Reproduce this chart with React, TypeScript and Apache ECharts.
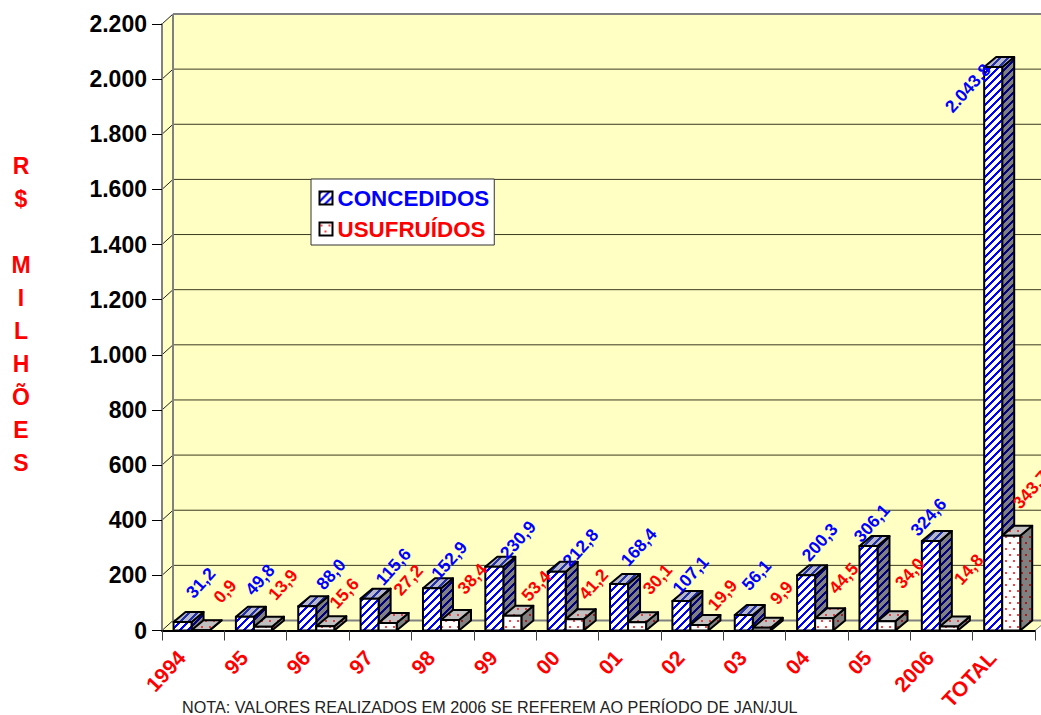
import React, { useEffect, useRef } from "react";
import * as echarts from "echarts";

const categories = ["1994", "95", "96", "97", "98", "99", "00", "01", "02", "03", "04", "05", "2006", "TOTAL"];
const concedidos = [31.2, 49.8, 88.0, 115.6, 152.9, 230.9, 212.8, 168.4, 107.1, 56.1, 200.3, 306.1, 324.6, 2043.8];
const usufruidos = [0.9, 13.9, 15.6, 27.2, 38.4, 53.4, 41.2, 30.1, 19.9, 9.9, 44.5, 34.0, 14.8, 343.7];
const concedidosLabels = ["31,2", "49,8", "88,0", "115,6", "152,9", "230,9", "212,8", "168,4", "107,1", "56,1", "200,3", "306,1", "324,6", "2.043,8"];
const usufruidosLabels = ["0,9", "13,9", "15,6", "27,2", "38,4", "53,4", "41,2", "30,1", "19,9", "9,9", "44,5", "34,0", "14,8", "343,7"];
const valueTicks = [0, 200, 400, 600, 800, 1000, 1200, 1400, 1600, 1800, 2000, 2200];
const valueTickLabels = ["0", "200", "400", "600", "800", "1.000", "1.200", "1.400", "1.600", "1.800", "2.000", "2.200"];

// hand-placed data label nudges (pixels from the bar's top at the band centre)
const concedidosNudgeX = [7.5, 4.5, 13, 13, 6.5, 13, 13, 9, -1.5, 2, 3, -7.5, -13, -36];
const concedidosNudgeY = [-39, -37, -32, -32, -28, -27, -24, -37, -26, -40, -33, -23, -24, 21];
const usufruidosNudgeX = [31.8, 27.5, 26.2, 27.9, 29.6, 31.3, 26, 27.7, 30.4, 27.1, 26.8, 30.5, 27.2, 26.9];
const usufruidosNudgeY = [-39, -42, -33, -43, -41, -30, -35, -43, -30, -35, -40, -48, -57, -46];

const WALL = "#FFFFC4";
const DEPTH_X = 11;
const DEPTH_Y = 10;
const BAR_DX = 12;
const BAR_DY = 10;

function stripes(fg: string, bg: string) {
  const c = document.createElement("canvas");
  c.width = 8;
  c.height = 8;
  const g = c.getContext("2d")!;
  g.fillStyle = bg;
  g.fillRect(0, 0, 8, 8);
  g.fillStyle = fg;
  for (let y = 0; y < 8; y++) for (let x = 0; x < 8; x++) if ((x + y) % 8 < 3) g.fillRect(x, y, 1, 1);
  return { image: c, repeat: "repeat" };
}

function dots(fg: string, bg: string) {
  const c = document.createElement("canvas");
  c.width = 8;
  c.height = 12;
  const g = c.getContext("2d")!;
  g.fillStyle = bg;
  g.fillRect(0, 0, 8, 12);
  g.fillStyle = fg;
  g.fillRect(1, 2, 2, 2);
  g.fillRect(5, 8, 2, 2);
  return { image: c, repeat: "repeat" };
}

function barRenderer(startRatio: number, widthRatio: number, front: any, top: any, side: any) {
  return (params: any, api: any) => {
    const i = api.value(0);
    const v = api.value(1);
    const band = api.size([1, 0])[0];
    const [cx, y1] = api.coord([i, v]);
    const y0 = api.coord([i, 0])[1];
    const x0 = cx - band / 2 + band * startRatio;
    const x1 = x0 + band * widthRatio;
    const line = { stroke: "#000", lineWidth: 2, lineJoin: "round" };
    return {
      type: "group",
      children: [
        { type: "polygon", shape: { points: [[x1, y1], [x1 + BAR_DX, y1 - BAR_DY], [x1 + BAR_DX, y0 - BAR_DY], [x1, y0]] }, style: { fill: side, ...line } },
        { type: "polygon", shape: { points: [[x0, y1], [x0 + BAR_DX, y1 - BAR_DY], [x1 + BAR_DX, y1 - BAR_DY], [x1, y1]] }, style: { fill: top, ...line } },
        { type: "rect", shape: { x: x0, y: y1, width: x1 - x0, height: y0 - y1 }, style: { fill: front, ...line } },
      ],
    };
  };
}

function labelRenderer(texts: string[], nudgeX: number[], nudgeY: number[], color: string) {
  return (params: any, api: any) => {
    const i = api.value(0);
    const [cx, cy] = api.coord([i, api.value(1)]);
    return {
      type: "text",
      x: cx + nudgeX[i],
      y: cy + nudgeY[i],
      rotation: (48 * Math.PI) / 180,
      style: {
        text: texts[i],
        fill: color,
        font: "bold 17.5px 'Liberation Sans', Arial, sans-serif",
        align: "center",
        verticalAlign: "middle",
      },
    };
  };
}

function wallRenderer(params: any, api: any) {
  const sys = params.coordSys;
  const v = api.value(0);
  const y = api.coord([0, v])[1];
  const xl = sys.x;
  const xr = sys.x + sys.width;
  const pageRight = xr + 6;
  const children: any[] = [];
  if (params.dataIndex === 0) {
    const yb = sys.y + sys.height;
    const yt = sys.y;
    children.push(
      { type: "polygon", shape: { points: [[xl + DEPTH_X, yt - DEPTH_Y], [pageRight, yt - DEPTH_Y], [pageRight, yb - DEPTH_Y], [xl + DEPTH_X, yb - DEPTH_Y]] }, style: { fill: WALL } },
      { type: "polygon", shape: { points: [[xl, yt], [xl + DEPTH_X, yt - DEPTH_Y], [xl + DEPTH_X, yb - DEPTH_Y], [xl, yb]] }, style: { fill: WALL } },
      { type: "polygon", shape: { points: [[xl, yb], [xl + DEPTH_X, yb - DEPTH_Y], [pageRight, yb - DEPTH_Y], [pageRight, yb - 4], [xr, yb]] }, style: { fill: WALL } },
    );
  }
  const isEdge = params.dataIndex === 0 || params.dataIndex === params.dataInsideLength - 1;
  children.push({
    type: "line",
    shape: { x1: xl + DEPTH_X, y1: y - DEPTH_Y, x2: pageRight, y2: y - DEPTH_Y },
    style: { stroke: isEdge ? "#808080" : "#3a3a20", lineWidth: isEdge ? 2 : 1 },
  });
  children.push({
    type: "line",
    shape: { x1: xl, y1: y, x2: xl + DEPTH_X, y2: y - DEPTH_Y },
    style: { stroke: "#222", lineWidth: 1 },
  });
  if (params.dataIndex === params.dataInsideLength - 1) {
    const yb = sys.y + sys.height;
    children.push(
      { type: "line", shape: { x1: xl + DEPTH_X, y1: y - DEPTH_Y, x2: xl + DEPTH_X, y2: yb - DEPTH_Y }, style: { stroke: "#808080", lineWidth: 2 } },
      { type: "line", shape: { x1: xr, y1: yb, x2: pageRight, y2: yb - 5 }, style: { stroke: "#808080", lineWidth: 1 } },
    );
  }
  return { type: "group", children };
}

export default function App() {
  const ref = useRef<HTMLDivElement>(null);

  useEffect(() => {
    document.body.style.margin = "0";
    const chart = echarts.init(ref.current!, undefined, { renderer: "svg" });

    const blueFront = stripes("#0000FF", "#FFFFFF");
    const blueTop = stripes("#2030A8", "#B8B8C8");
    const blueSide = stripes("#000080", "#808080");
    const redFront = dots("#FF4040", "#FFFFFF");
    const redTop = dots("#E04040", "#C0C0C0");
    const redSide = dots("#A02020", "#808080");

    const pairs = (vals: number[]) => vals.map((v, i) => [i, v]);

    chart.setOption({
      animation: false,
      backgroundColor: "#FFFFFF",
      grid: { left: 162, right: 6, top: 24, bottom: 84.5, containLabel: false, outerBoundsMode: "none" },
      legend: {
        left: 311,
        top: 179,
        orient: "vertical",
        padding: [8, 5, 5, 7.5],
        itemGap: 9,
        itemWidth: 13,
        itemHeight: 13,
        backgroundColor: "#FFFFFF",
        borderColor: "#333",
        borderWidth: 1,
        z: 20,
        selectedMode: false,
        data: [
          { name: "CONCEDIDOS", icon: "rect", itemStyle: { color: blueFront, borderColor: "#000", borderWidth: 2 }, textStyle: { color: "#0000FF" } },
          { name: "USUFRUÍDOS", icon: "rect", itemStyle: { color: redFront, borderColor: "#000", borderWidth: 2 }, textStyle: { color: "#FF0000" } },
        ],
        textStyle: { fontFamily: "'Liberation Sans', Arial, sans-serif", fontWeight: "bold", fontSize: 22.4, padding: [0, 0, 0, 0] },
      },
      xAxis: {
        type: "category",
        data: categories,
        z: 3,
        axisLine: { lineStyle: { color: "#000", width: 2 } },
        axisTick: { show: true, length: 10, lineStyle: { color: "#404040", width: 1 } },
        axisLabel: {
          interval: 0,
          rotate: 47,
          color: "#FF0000",
          fontFamily: "'Liberation Sans', Arial, sans-serif",
          fontWeight: "bold",
          fontSize: 21,
          margin: 11,
          padding: [0, 17, 0, 0],
        },
      },
      yAxis: {
        type: "value",
        min: 0,
        max: 2200,
        interval: 200,
        z: 3,
        splitLine: { show: false },
        axisLine: { show: true, lineStyle: { color: "#808080", width: 2 } },
        axisTick: { show: true, length: 10, lineStyle: { color: "#000", width: 1 } },
        axisLabel: {
          color: "#000",
          fontFamily: "'Liberation Sans', Arial, sans-serif",
          fontWeight: "bold",
          fontSize: 23,
          margin: 15,
          formatter: (v: number) => valueTickLabels[valueTicks.indexOf(v)],
        },
      },
      series: [
        { type: "custom", name: "wall", silent: true, z: 1, renderItem: wallRenderer, encode: { y: 0 }, data: valueTicks.map((v) => [v]), coordinateSystem: "cartesian2d" },
        { type: "custom", name: "CONCEDIDOS", z: 4, itemStyle: { color: "#0000FF" }, renderItem: barRenderer(0.185, 0.289, blueFront, blueTop, blueSide), encode: { x: 0, y: 1 }, data: pairs(concedidos) },
        { type: "custom", name: "USUFRUÍDOS", z: 5, itemStyle: { color: "#FF0000" }, renderItem: barRenderer(0.474, 0.289, redFront, redTop, redSide), encode: { x: 0, y: 1 }, data: pairs(usufruidos) },
        { type: "custom", name: "rótulos concedidos", z: 6, renderItem: labelRenderer(concedidosLabels, concedidosNudgeX, concedidosNudgeY, "#0000FF"), encode: { x: 0, y: 1 }, data: pairs(concedidos) },
        { type: "custom", name: "rótulos usufruídos", z: 6, renderItem: labelRenderer(usufruidosLabels, usufruidosNudgeX, usufruidosNudgeY, "#FF0000"), encode: { x: 0, y: 1 }, data: pairs(usufruidos) },
      ],
      graphic: [
        {
          type: "text",
          x: 21,
          y: 149.5,
          style: {
            text: "R\n$\n\nM\nI\nL\nH\nÕ\nE\nS",
            fill: "#FF0000",
            font: "bold 23px 'Liberation Sans', Arial, sans-serif",
            lineHeight: 33,
            align: "center",
          },
        },
        {
          type: "text",
          x: 182,
          y: 707,
          style: {
            text: "NOTA: VALORES REALIZADOS EM 2006 SE REFEREM AO PERÍODO DE JAN/JUL",
            fill: "#222222",
            font: "16.2px 'Liberation Sans', Arial, sans-serif",
            verticalAlign: "middle",
          },
        },
      ],
    });

    return () => chart.dispose();
  }, []);

  return <div ref={ref} style={{ width: 1041, height: 715, overflow: "hidden" }} />;
}
